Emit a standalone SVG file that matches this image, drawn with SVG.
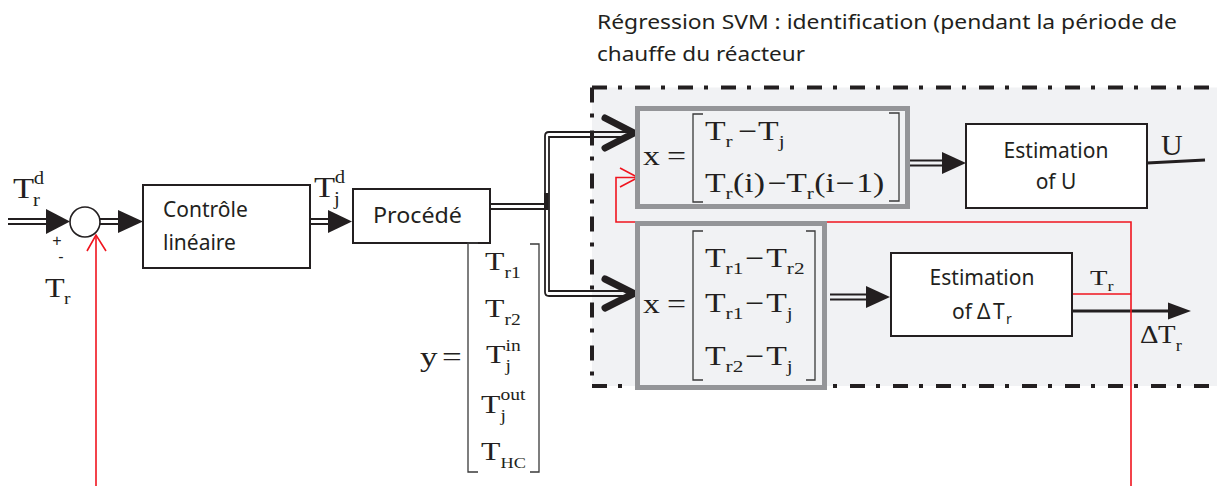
<svg xmlns="http://www.w3.org/2000/svg" width="1217" height="486" viewBox="0 0 1217 486">
<style>
.s{font-family:"Noto Sans","Open Sans",sans-serif;font-size:21px;fill:#231f20}
.t{font-family:"Noto Sans","Open Sans",sans-serif;font-size:20px;fill:#231f20}
.m{font-family:"Liberation Serif","Times New Roman",serif;fill:#231f20}
.box{fill:#fff;stroke:#231f20;stroke-width:2}
.gbox{fill:#f1f2f4;stroke:#949598;stroke-width:5}
.dl{fill:none;stroke:#231f20;stroke-width:1.8}
.ln{fill:none;stroke:#231f20;stroke-width:3}
.ah{fill:#231f20}
.chev{fill:none;stroke:#231f20;stroke-width:7;stroke-linecap:round;stroke-linejoin:miter}
.red{fill:none;stroke:#f0141e;stroke-width:1.6}
.br{fill:none;stroke:#3a3a3a;stroke-width:1.3}
.dash{fill:none;stroke:#231f20;stroke-width:4;stroke-dasharray:15 11 4 13}
</style>

<!-- SVM region -->
<g id="svm-region">
  <rect x="592" y="87.5" width="630" height="298.5" fill="#f1f2f4"/>
  <path class="dash" d="M592,87.5 H1217"/>
  <path class="dash" d="M592,386 H1217"/>
  <path class="dash" d="M592,87.5 V386"/>
</g>

<g id="title">
  <text class="t" x="597" y="29" textLength="580" lengthAdjust="spacingAndGlyphs">Régression SVM : identification (pendant la période de</text>
  <text class="t" x="597" y="61" textLength="208" lengthAdjust="spacingAndGlyphs">chauffe du réacteur</text>
</g>

<!-- connectors -->
<g id="connectors">
  <path class="dl" d="M8,219 H50 M8,224 H50"/>
  <polygon class="ah" points="46,209 70,221.5 46,234"/>
  <path class="dl" d="M100,219 H122 M100,224 H122"/>
  <polygon class="ah" points="118,210 143,221.5 118,233"/>
  <path class="dl" d="M310,219 H332 M310,224 H332"/>
  <polygon class="ah" points="328,210 352,221.5 328,233"/>
  <path class="dl" d="M487,204 H545 M487,209 H545"/>
  <path class="dl" d="M545,207 V136 Q545,132 549,132 H630"/>
  <path class="dl" d="M549,207 V137 H630"/>
  <path class="dl" d="M545,207 V292 Q545,296 549,296 H630"/>
  <path class="dl" d="M549,207 V291 H630"/>
  <rect x="544" y="193" width="4.5" height="17" fill="#231f20"/>
  <polyline class="chev" points="605,118 634,133 605,148"/>
  <polyline class="chev" points="605,279 634,293.5 605,308"/>
  <path class="dl" d="M910,160.5 H946 M910,165.5 H946"/>
  <polygon class="ah" points="942,152 966,163 942,174"/>
  <path class="dl" d="M830,294.5 H870 M830,299.5 H870"/>
  <polygon class="ah" points="866,286 890,297 866,308"/>
  <path class="ln" d="M1147,163 L1205,160"/>
  <path class="ln" d="M1072,311 H1172"/>
  <polygon class="ah" points="1168,302.5 1191,311 1168,319.5"/>
  <path class="red" d="M1072,294 H1131 V486 M1131,294 V222 H616 V177.5 H637"/>
  <polyline class="red" points="620,168 638,177.5 620,187"/>
  <path class="red" d="M96,486 V236"/>
  <polyline class="red" points="87,251 96,235 106,251"/>
</g>

<g id="sum">
  <circle cx="85" cy="222" r="15" fill="#fff" stroke="#231f20" stroke-width="1.6"/>
  <text font-family="Liberation Sans, sans-serif" font-size="16" fill="#231f20" text-anchor="middle"><tspan x="57" y="245.5">+</tspan><tspan x="61" y="262">-</tspan></text>
</g>

<g id="label-trd" transform="translate(13,198) scale(1.15,1)">
  <text class="m" font-size="30">T<tspan x="17.5" y="8" font-size="18">r</tspan><tspan x="18" y="-14" font-size="18">d</tspan></text>
</g>
<g id="label-tr-left" transform="translate(45,297) scale(1.15,1)">
  <text class="m" font-size="28">T<tspan x="16.5" y="7" font-size="17">r</tspan></text>
</g>
<g id="label-tjd" transform="translate(314,197) scale(1.15,1)">
  <text class="m" font-size="30">T<tspan x="17.5" y="8" font-size="18">j</tspan><tspan x="18" y="-14" font-size="18">d</tspan></text>
</g>

<g id="controle">
  <rect class="box" x="143" y="185" width="167" height="83"/>
  <text class="s" x="163" y="217">Contrôle</text>
  <text class="s" x="163" y="250">linéaire</text>
</g>

<g id="procede">
  <rect class="box" x="353" y="189" width="137" height="54"/>
  <text class="s" x="373" y="223" textLength="89" lengthAdjust="spacingAndGlyphs">Procédé</text>
</g>

<g id="y-vector">
  <path class="br" d="M478,243 H468 V472 H478"/>
  <path class="br" d="M530,244 H539 V472 H530"/>
  <g transform="translate(420,366) scale(1.25,1)"><text class="m" font-size="28">y<tspan x="17.6">=</tspan></text></g>
  <g transform="translate(485,270) scale(1.22,1)"><text class="m" font-size="26">T<tspan x="16" y="8" font-size="16">r1</tspan></text></g>
  <g transform="translate(485,317) scale(1.22,1)"><text class="m" font-size="26">T<tspan x="16" y="8" font-size="16">r2</tspan></text></g>
  <g transform="translate(486,363) scale(1.22,1)"><text class="m" font-size="26">T<tspan x="16" y="8" font-size="16">j</tspan><tspan x="16" y="-12" font-size="16">in</tspan></text></g>
  <g transform="translate(481,413) scale(1.22,1)"><text class="m" font-size="26">T<tspan x="16" y="8" font-size="16">j</tspan><tspan x="16" y="-13" font-size="16">out</tspan></text></g>
  <g transform="translate(481,460) scale(1.22,1)"><text class="m" font-size="26">T<tspan x="16" y="8" font-size="15">HC</tspan></text></g>
</g>

<g id="matrix-top">
  <rect class="gbox" x="637.5" y="108.5" width="270" height="98"/>
  <path class="br" d="M703,114 H693 V202 H703"/>
  <path class="br" d="M889,113 H899 V201 H889"/>
  <g transform="translate(643,165) scale(1.25,1)"><text class="m" font-size="27">x<tspan x="19.2">=</tspan></text></g>
  <g transform="translate(705,140) scale(1.25,1)"><text class="m" font-size="27">T<tspan x="16.5" y="7" font-size="17">r</tspan><tspan x="26.5" y="0">−</tspan><tspan x="42.5">T</tspan><tspan x="59" y="7" font-size="17">j</tspan></text></g>
  <g transform="translate(705,192) scale(1.25,1)"><text class="m" font-size="27">T<tspan x="16.5" y="7" font-size="17">r</tspan><tspan x="22.5" y="0">(i)</tspan><tspan x="50">−</tspan><tspan x="65">T</tspan><tspan x="81.5" y="7" font-size="17">r</tspan><tspan x="87.5" y="0">(i</tspan><tspan x="104.5">−</tspan><tspan x="121">1)</tspan></text></g>
</g>

<g id="matrix-bottom">
  <rect class="gbox" x="637.5" y="223.5" width="187" height="164"/>
  <path class="br" d="M703,231 H693 V380 H703"/>
  <path class="br" d="M806,231 H815 V380 H806"/>
  <g transform="translate(643,313) scale(1.25,1)"><text class="m" font-size="27">x<tspan x="19.2">=</tspan></text></g>
  <g transform="translate(705,267) scale(1.25,1)"><text class="m" font-size="27">T<tspan x="16.5" y="7" font-size="17">r1</tspan><tspan x="32" y="0">−</tspan><tspan x="49">T</tspan><tspan x="65.5" y="7" font-size="17">r2</tspan></text></g>
  <g transform="translate(705,312) scale(1.25,1)"><text class="m" font-size="27">T<tspan x="16.5" y="7" font-size="17">r1</tspan><tspan x="32" y="0">−</tspan><tspan x="49">T</tspan><tspan x="65.5" y="7" font-size="17">j</tspan></text></g>
  <g transform="translate(705,365) scale(1.25,1)"><text class="m" font-size="27">T<tspan x="16.5" y="7" font-size="17">r2</tspan><tspan x="32" y="0">−</tspan><tspan x="49">T</tspan><tspan x="65.5" y="7" font-size="17">j</tspan></text></g>
</g>

<g id="estimation-u">
  <rect class="box" x="966" y="124" width="181" height="84"/>
  <text class="s" x="1056" y="158" text-anchor="middle">Estimation</text>
  <text class="s" x="1056" y="189" text-anchor="middle">of U</text>
</g>
<g id="label-u">
  <text class="m" x="1161" y="155" font-size="30">U</text>
</g>

<g id="estimation-dt">
  <rect class="box" x="891" y="253" width="181" height="83"/>
  <text class="s" x="982" y="285" text-anchor="middle">Estimation</text>
  <text class="s" x="952" y="319">of<tspan x="977">Δ</tspan><tspan x="993">T</tspan><tspan x="1006" y="324" font-size="14">r</tspan></text>
</g>
<g id="label-tr-red" transform="translate(1090,285) scale(1.3,1)">
  <text class="m" font-size="22">T<tspan x="13.5" y="6" font-size="14">r</tspan></text>
</g>
<g id="label-dtr" transform="translate(1140,343) scale(1.15,1)">
  <text class="m" font-size="25">Δ<tspan x="15.6">T</tspan><tspan x="31" y="8" font-size="16">r</tspan></text>
</g>
</svg>
